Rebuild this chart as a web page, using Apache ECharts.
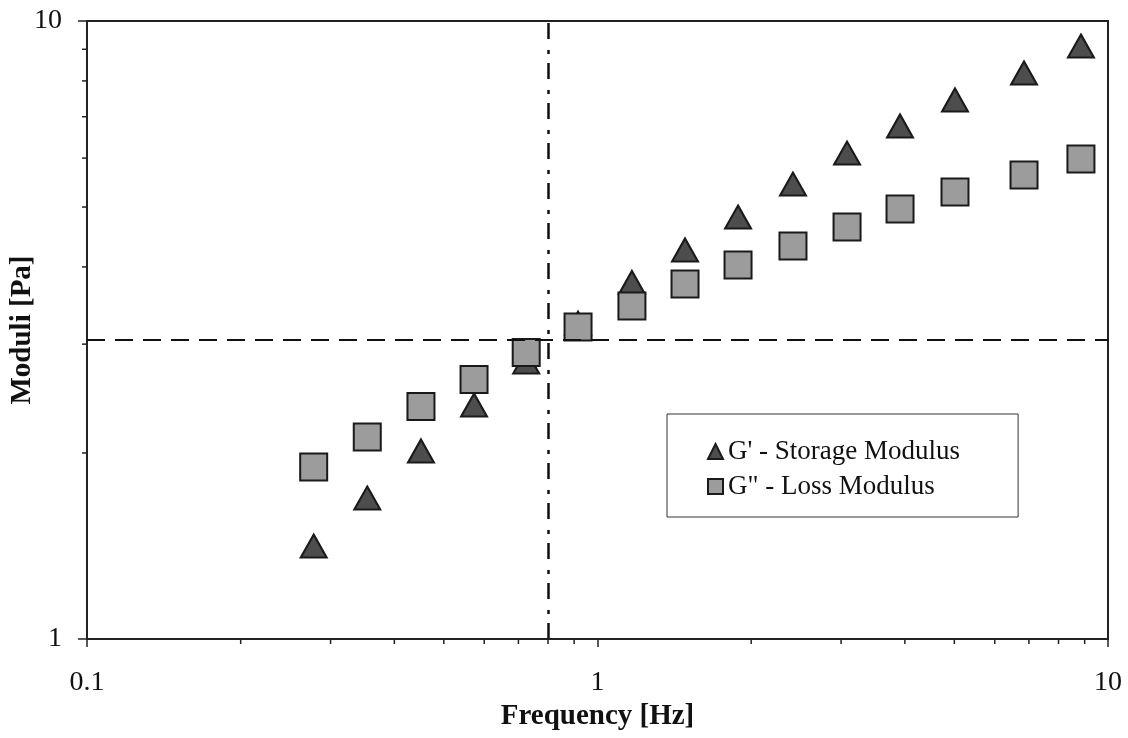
<!DOCTYPE html>
<html>
<head>
<meta charset="utf-8">
<script src="https://cdn.jsdelivr.net/npm/echarts@6/dist/echarts.min.js"></script>
<style>
html,body{margin:0;padding:0;background:#fff;}
#c{width:1128px;height:738px;}
</style>
</head>
<body>
<div id="c"></div>
<script>
// Data
const frequency = [0.278, 0.354, 0.451, 0.573, 0.725, 0.916, 1.168, 1.484, 1.885, 2.415, 3.082, 3.914, 5.015, 6.847, 8.851];
const storageModulus = [1.414, 1.691, 2.015, 2.391, 2.807, 3.245, 3.775, 4.261, 4.817, 5.447, 6.114, 6.763, 7.451, 8.240, 9.111];
const lossModulus = [1.898, 2.122, 2.378, 2.630, 2.908, 3.197, 3.458, 3.753, 4.030, 4.324, 4.642, 4.964, 5.288, 5.634, 5.980];
const crossoverFrequency = 0.8;
const crossoverModulus = 3.05;
const xMinorTicks = [0.2, 0.3, 0.4, 0.5, 0.6, 0.7, 0.8, 0.9, 2, 3, 4, 5, 6, 7, 8, 9];
const yMinorTicks = [2, 3, 4, 5, 6, 7, 8, 9];
const seriesNames = ["G' - Storage Modulus", 'G" - Loss Modulus'];

const FONT = 'Liberation Serif';
const chart = echarts.init(document.getElementById('c'), null, {renderer: 'canvas'});

const fmt = v => String(+Number(v).toPrecision(3));

chart.setOption({
  animation: false,
  backgroundColor: '#fff',
  grid: {left: 87, right: 20, top: 21, bottom: 99, show: true, borderColor: '#222', borderWidth: 2,
    containLabel: false, outerBoundsMode: 'none'},
  legend: {
    data: seriesNames,
    orient: 'vertical',
    left: 667, top: 414,
    padding: [24, 58, 17, 40],
    itemGap: 8,
    itemWidth: 15, itemHeight: 15,
    borderColor: '#333', borderWidth: 1,
    backgroundColor: '#fff',
    textStyle: {fontFamily: FONT, fontSize: 27, color: '#111'}
  },
  xAxis: {
    type: 'log', logBase: 10, min: 0.1, max: 10,
    name: 'Frequency [Hz]', nameLocation: 'middle', nameGap: 63, nameMoveOverlap: false,
    nameTextStyle: {fontFamily: FONT, fontSize: 29, fontWeight: 'bold', color: '#111'},
    axisLine: {show: true, lineStyle: {color: '#222', width: 2}},
    axisTick: {show: true, length: 8, lineStyle: {color: '#222', width: 1.5}},
    axisLabel: {fontFamily: FONT, fontSize: 28, color: '#111', margin: 30, formatter: fmt},
    splitLine: {show: false}
  },
  yAxis: {
    type: 'log', logBase: 10, min: 1, max: 10,
    name: 'Moduli [Pa]', nameLocation: 'middle', nameGap: 50, nameMoveOverlap: false,
    nameTextStyle: {fontFamily: FONT, fontSize: 29, fontWeight: 'bold', color: '#111'},
    axisLine: {show: true, lineStyle: {color: '#222', width: 2}},
    axisTick: {show: true, length: 9, lineStyle: {color: '#222', width: 1.5}},
    axisLabel: {fontFamily: FONT, fontSize: 28, color: '#111', margin: 25, formatter: fmt},
    splitLine: {show: false}
  },
  series: [
    {
      name: seriesNames[0],
      type: 'scatter',
      symbol: 'triangle',
      symbolSize: [26, 23],
      data: frequency.map((f, i) => [f, storageModulus[i]]),
      itemStyle: {color: '#4d4d4d', borderColor: '#1a1a1a', borderWidth: 2, opacity: 1},
      z: 3,
      markLine: {
        silent: true,
        symbol: ['none', 'none'],
        label: {show: false},
        animation: false,
        data: [
          {xAxis: crossoverFrequency, lineStyle: {color: '#111', width: 2.5, type: [16, 9, 4, 11]}},
          {yAxis: crossoverModulus, lineStyle: {color: '#111', width: 2, type: [18, 10]}}
        ]
      }
    },
    {
      name: seriesNames[1],
      type: 'scatter',
      symbol: 'rect',
      symbolSize: 27,
      data: frequency.map((f, i) => [f, lossModulus[i]]),
      itemStyle: {color: '#9c9c9c', borderColor: '#1a1a1a', borderWidth: 2, opacity: 1},
      z: 4
    },
    {
      name: 'xMinor',
      type: 'custom',
      silent: true,
      data: xMinorTicks.map(v => [v, 1]),
      renderItem: function (params, api) {
        const p = api.coord([api.value(0), api.value(1)]);
        return {type: 'line', shape: {x1: p[0], y1: p[1], x2: p[0], y2: p[1] + 5},
          style: {stroke: '#222', lineWidth: 1.5}};
      },
      z: 5
    },
    {
      name: 'yMinor',
      type: 'custom',
      silent: true,
      data: yMinorTicks.map(v => [0.1, v]),
      renderItem: function (params, api) {
        const p = api.coord([api.value(0), api.value(1)]);
        return {type: 'line', shape: {x1: p[0], y1: p[1], x2: p[0] - 5, y2: p[1]},
          style: {stroke: '#222', lineWidth: 1.5}};
      },
      z: 5
    }
  ]
});
</script>
</body>
</html>
